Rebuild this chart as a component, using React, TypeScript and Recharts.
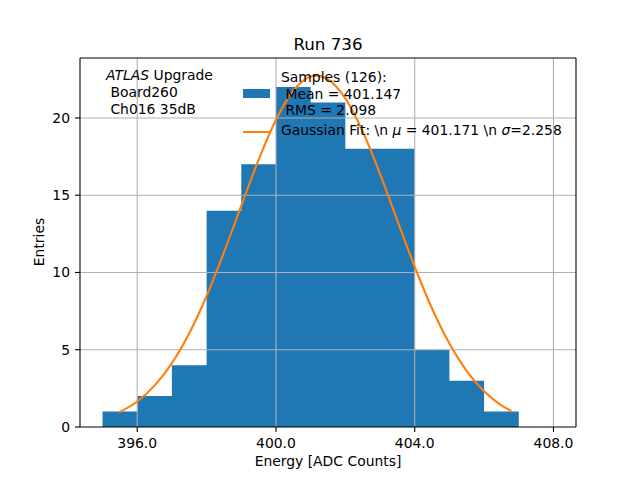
import React from 'react';
import {
  ComposedChart,
  Area,
  Line,
  XAxis,
  YAxis,
  ReferenceLine,
} from 'recharts';

// histogram: bin left edges and entries per bin
const binEdges = [395, 396, 397, 398, 399, 400, 401, 402, 403, 404, 405, 406, 407];
const counts = [1, 2, 4, 14, 17, 22, 21, 18, 18, 5, 3, 1, 0];

// gaussian fit curve
const fitX = [
  395.47, 396.0, 396.5, 397.0, 397.5, 398.0, 398.5, 399.0, 399.5, 400.0, 400.5, 401.0,
  401.17, 401.5, 402.0, 402.5, 403.0, 403.5, 404.0, 404.5, 405.0, 405.5, 406.0, 406.5, 406.79,
];
const fitY = [
  0.94, 1.65, 2.68, 4.13, 6.07, 8.48, 11.3, 14.32, 17.29, 19.88, 21.76, 22.68,
  22.74, 22.5, 21.26, 19.12, 16.38, 13.36, 10.37, 7.67, 5.4, 3.62, 2.31, 1.4, 1.03,
];

const xTicks = [396, 400, 404, 408];
const yTicks = [0, 5, 10, 15, 20];
const xDomain = [394.35, 408.65];
const yDomain = [0, 23.88];

const histData = binEdges.map((x, i) => ({ x, y: counts[i] }));
const fitData = fitX.map((x, i) => ({ x, y: fitY[i] }));

const FONT = '"DejaVu Sans", sans-serif';
const fs = 13.9;
const GRID = '#b0b0b0';

const abs = (style: React.CSSProperties): React.CSSProperties => ({
  position: 'absolute',
  fontFamily: FONT,
  fontSize: fs,
  color: '#000',
  whiteSpace: 'pre',
  lineHeight: 1,
  ...style,
});

export default function App() {
  return (
    <div style={{ position: 'absolute', left: 0, top: 0, width: 640, height: 480, background: '#fff' }}>
      <ComposedChart width={640} height={480} margin={{ top: 58, right: 64, left: 0, bottom: 0 }}>
        <XAxis
          dataKey="x"
          type="number"
          domain={xDomain}
          ticks={xTicks}
          allowDataOverflow
          tickFormatter={(v) => Number(v).toFixed(1)}
          height={53}
          tickSize={5}
          tickMargin={6}
          stroke="#000"
          strokeWidth={1.1}
          tick={{ fill: '#000', fontSize: fs, fontFamily: FONT }}
        />
        <YAxis
          type="number"
          domain={yDomain}
          ticks={yTicks}
          allowDataOverflow
          width={80}
          tickSize={5}
          tickMargin={5}
          stroke="#000"
          strokeWidth={1.1}
          tick={{ fill: '#000', fontSize: fs, fontFamily: FONT }}
        />
        <Area
          data={histData}
          dataKey="y"
          type="stepAfter"
          fill="#1f77b4"
          fillOpacity={1}
          stroke="none"
          baseValue={0}
          isAnimationActive={false}
        />
        {/* grid sits above the bars, as in matplotlib */}
        {yTicks.slice(1).map((t) => (
          <ReferenceLine key={'gy' + t} y={t} stroke={GRID} strokeWidth={1.1} />
        ))}
        {xTicks.map((t) => (
          <ReferenceLine key={'gx' + t} x={t} stroke={GRID} strokeWidth={1.1} />
        ))}
        <Line
          data={fitData}
          dataKey="y"
          type="monotone"
          stroke="#ff7f0e"
          strokeWidth={2.1}
          dot={false}
          isAnimationActive={false}
        />
        <ReferenceLine y={yDomain[1]} stroke="#000" strokeWidth={1.1} />
        <ReferenceLine x={xDomain[1]} stroke="#000" strokeWidth={1.1} />
      </ComposedChart>

      {/* title and axis labels */}
      <div style={abs({ left: 0, width: 656, top: 36, textAlign: 'center', fontSize: 16.7 })}>Run 736</div>
      <div style={abs({ left: 0, width: 656, top: 455, textAlign: 'center' })}>Energy [ADC Counts]</div>
      <div
        style={abs({
          left: 40,
          top: 242,
          transform: 'translate(-50%, -50%) rotate(-90deg)',
        })}
      >
        Entries
      </div>

      {/* ATLAS text */}
      <div style={abs({ left: 106, top: 67, lineHeight: '17px' })}>
        <i>ATLAS</i> Upgrade{'\n'} Board260{'\n'} Ch016 35dB
      </div>

      {/* legend */}
      <div style={{ position: 'absolute', left: 243, top: 89, width: 27, height: 9, background: '#1f77b4' }} />
      <div style={abs({ left: 281, top: 69, lineHeight: '16.7px' })}>
        Samples (126):{'\n'} Mean = 401.147{'\n'} RMS = 2.098
      </div>
      <div style={{ position: 'absolute', left: 243, top: 130.5, width: 27, height: 2.1, background: '#ff7f0e' }} />
      <div style={abs({ left: 281, top: 124 })}>
        Gaussian Fit: {'\\n'} <i>μ</i> = 401.171 {'\\n'} <i>σ</i>=2.258
      </div>
    </div>
  );
}
